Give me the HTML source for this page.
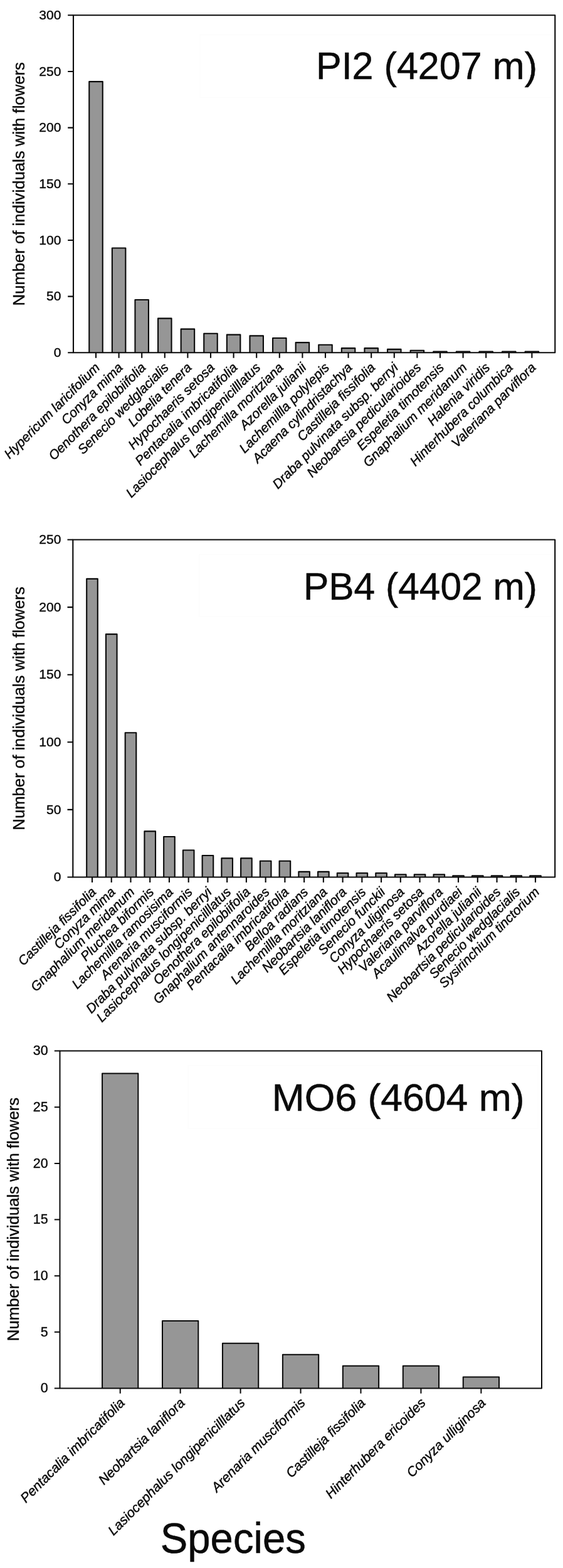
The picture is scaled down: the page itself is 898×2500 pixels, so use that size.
<!DOCTYPE html>
<html lang="en"><head><meta charset="utf-8"><title>Number of individuals with flowers per species</title>
<style>html,body{margin:0;padding:0;background:#fff}svg{display:block}text{font-family:"Liberation Sans",Arial,sans-serif;fill:#0a0a0a}</style>
</head><body>
<svg width="898" height="2500" viewBox="0 0 898 2500">
<rect width="898" height="2500" fill="#fff"/>
<g fill="#969696" stroke="#0a0a0a" stroke-width="2.1" stroke-linejoin="round">
<path d="M142.25 562.3V130.11H163.75V562.3"/>
<path d="M178.85 562.3V395.52H200.35V562.3"/>
<path d="M215.45 562.3V478.01H236.95V562.3"/>
<path d="M252.05 562.3V507.60H273.55V562.3"/>
<path d="M288.65 562.3V524.64H310.15V562.3"/>
<path d="M325.25 562.3V531.81H346.75V562.3"/>
<path d="M361.85 562.3V533.61H383.35V562.3"/>
<path d="M398.45 562.3V535.40H419.95V562.3"/>
<path d="M435.05 562.3V538.99H456.55V562.3"/>
<path d="M471.65 562.3V546.16H493.15V562.3"/>
<path d="M508.25 562.3V549.75H529.75V562.3"/>
<path d="M544.85 562.3V555.13H566.35V562.3"/>
<path d="M581.45 562.3V555.13H602.95V562.3"/>
<path d="M618.05 562.3V556.92H639.55V562.3"/>
<path d="M654.65 562.3V558.71H676.15V562.3"/>
<path d="M691.25 562.3V560.51H712.75V562.3"/>
<path d="M727.85 562.3V560.51H749.35V562.3"/>
<path d="M764.45 562.3V560.51H785.95V562.3"/>
<path d="M801.05 562.3V560.51H822.55V562.3"/>
<path d="M837.65 562.3V560.51H859.15V562.3"/>
</g>
<g fill="none" stroke="#0a0a0a" stroke-width="2.1" stroke-linejoin="round">
<rect x="117" y="24.3" width="768.3" height="538.0"/>
<path d="M108.20 562.30H117M108.20 472.63H117M108.20 382.97H117M108.20 293.30H117M108.20 203.63H117M108.20 113.97H117M108.20 24.30H117M153.00 562.3V570.70M189.60 562.3V570.70M226.20 562.3V570.70M262.80 562.3V570.70M299.40 562.3V570.70M336.00 562.3V570.70M372.60 562.3V570.70M409.20 562.3V570.70M445.80 562.3V570.70M482.40 562.3V570.70M519.00 562.3V570.70M555.60 562.3V570.70M592.20 562.3V570.70M628.80 562.3V570.70M665.40 562.3V570.70M702.00 562.3V570.70M738.60 562.3V570.70M775.20 562.3V570.70M811.80 562.3V570.70M848.40 562.3V570.70"/>
</g>
<g font-size="21" text-anchor="end" stroke="#0a0a0a" stroke-width="0.4">
<text x="97.4" y="568.96">0</text>
<text x="97.4" y="479.29">50</text>
<text x="97.4" y="389.62">100</text>
<text x="97.4" y="299.95">150</text>
<text x="97.4" y="210.29">200</text>
<text x="97.4" y="120.62">250</text>
<text x="97.4" y="30.95">300</text>
</g>
<text font-size="25.7" text-anchor="middle" stroke="#0a0a0a" stroke-width="0.4" transform="translate(38.5,293.3) rotate(-90)">Number of individuals with flowers</text>
<g font-size="21" font-style="italic" text-anchor="end" stroke="#0a0a0a" stroke-width="0.45">
<text transform="translate(160.50,587.30) rotate(-45)">Hypericum laricifolium</text>
<text transform="translate(197.10,587.30) rotate(-45)">Conyza mima</text>
<text transform="translate(233.70,587.30) rotate(-45)">Oenothera epilobiifolia</text>
<text transform="translate(270.30,587.30) rotate(-45)">Senecio wedglacialis</text>
<text transform="translate(306.90,587.30) rotate(-45)">Lobelia tenera</text>
<text transform="translate(343.50,587.30) rotate(-45)">Hypochaeris setosa</text>
<text transform="translate(380.10,587.30) rotate(-45)">Pentacalia imbricatifolia</text>
<text transform="translate(416.70,587.30) rotate(-45)">Lasiocephalus longipenicilllatus</text>
<text transform="translate(453.30,587.30) rotate(-45)">Lachemilla moritziana</text>
<text transform="translate(489.90,587.30) rotate(-45)">Azorella julianii</text>
<text transform="translate(526.50,587.30) rotate(-45)">Lachemillla polylepis</text>
<text transform="translate(563.10,587.30) rotate(-45)">Acaena cylindristachya</text>
<text transform="translate(599.70,587.30) rotate(-45)">Castilleja fissifolia</text>
<text transform="translate(636.30,587.30) rotate(-45)">Draba pulvinata subsp. berryi</text>
<text transform="translate(672.90,587.30) rotate(-45)">Neobartsia pedicularioides</text>
<text transform="translate(709.50,587.30) rotate(-45)">Espeletia timotensis</text>
<text transform="translate(746.10,587.30) rotate(-45)">Gnaphalium meridanum</text>
<text transform="translate(782.70,587.30) rotate(-45)">Halenia viridis</text>
<text transform="translate(819.30,587.30) rotate(-45)">Hinterhubera columbica</text>
<text transform="translate(855.90,587.30) rotate(-45)">Valeriana parviflora</text>
</g>
<text x="503.9" y="126.4" font-size="61" stroke="#0a0a0a" stroke-width="0.5" textLength="353.1" lengthAdjust="spacingAndGlyphs">PI2 (4207 m)</text>
<g fill="#969696" stroke="#0a0a0a" stroke-width="2.1" stroke-linejoin="round">
<path d="M138.20 1398.5V922.91H155.80V1398.5"/>
<path d="M168.94 1398.5V1011.14H186.54V1398.5"/>
<path d="M199.68 1398.5V1168.24H217.28V1398.5"/>
<path d="M230.42 1398.5V1325.33H248.02V1398.5"/>
<path d="M261.16 1398.5V1333.94H278.76V1398.5"/>
<path d="M291.90 1398.5V1355.46H309.50V1398.5"/>
<path d="M322.64 1398.5V1364.07H340.24V1398.5"/>
<path d="M353.38 1398.5V1368.37H370.98V1398.5"/>
<path d="M384.12 1398.5V1368.37H401.72V1398.5"/>
<path d="M414.86 1398.5V1372.68H432.46V1398.5"/>
<path d="M445.60 1398.5V1372.68H463.20V1398.5"/>
<path d="M476.34 1398.5V1389.89H493.94V1398.5"/>
<path d="M507.08 1398.5V1389.89H524.68V1398.5"/>
<path d="M537.82 1398.5V1392.04H555.42V1398.5"/>
<path d="M568.56 1398.5V1392.04H586.16V1398.5"/>
<path d="M599.30 1398.5V1392.04H616.90V1398.5"/>
<path d="M630.04 1398.5V1394.20H647.64V1398.5"/>
<path d="M660.78 1398.5V1394.20H678.38V1398.5"/>
<path d="M691.52 1398.5V1394.20H709.12V1398.5"/>
<path d="M722.26 1398.5V1396.35H739.86V1398.5"/>
<path d="M753.00 1398.5V1396.35H770.60V1398.5"/>
<path d="M783.74 1398.5V1396.35H801.34V1398.5"/>
<path d="M814.48 1398.5V1396.35H832.08V1398.5"/>
<path d="M845.22 1398.5V1396.35H862.82V1398.5"/>
</g>
<g fill="none" stroke="#0a0a0a" stroke-width="2.1" stroke-linejoin="round">
<rect x="116.3" y="860.5" width="768.9000000000001" height="538.0"/>
<path d="M107.50 1398.50H116.3M107.50 1290.90H116.3M107.50 1183.30H116.3M107.50 1075.70H116.3M107.50 968.10H116.3M107.50 860.50H116.3M147.00 1398.5V1406.90M177.74 1398.5V1406.90M208.48 1398.5V1406.90M239.22 1398.5V1406.90M269.96 1398.5V1406.90M300.70 1398.5V1406.90M331.44 1398.5V1406.90M362.18 1398.5V1406.90M392.92 1398.5V1406.90M423.66 1398.5V1406.90M454.40 1398.5V1406.90M485.14 1398.5V1406.90M515.88 1398.5V1406.90M546.62 1398.5V1406.90M577.36 1398.5V1406.90M608.10 1398.5V1406.90M638.84 1398.5V1406.90M669.58 1398.5V1406.90M700.32 1398.5V1406.90M731.06 1398.5V1406.90M761.80 1398.5V1406.90M792.54 1398.5V1406.90M823.28 1398.5V1406.90M854.02 1398.5V1406.90"/>
</g>
<g font-size="21" text-anchor="end" stroke="#0a0a0a" stroke-width="0.4">
<text x="97.4" y="1405.15">0</text>
<text x="97.4" y="1297.56">50</text>
<text x="97.4" y="1189.95">100</text>
<text x="97.4" y="1082.36">150</text>
<text x="97.4" y="974.75">200</text>
<text x="97.4" y="867.16">250</text>
</g>
<text font-size="25.7" text-anchor="middle" stroke="#0a0a0a" stroke-width="0.4" transform="translate(38.5,1129.5) rotate(-90)">Number of individuals with flowers</text>
<g font-size="21" font-style="italic" text-anchor="end" stroke="#0a0a0a" stroke-width="0.45">
<text transform="translate(154.50,1423.50) rotate(-45)">Castilleja fissifolia</text>
<text transform="translate(185.24,1423.50) rotate(-45)">Conyza mima</text>
<text transform="translate(215.98,1423.50) rotate(-45)">Gnaphalium meridanum</text>
<text transform="translate(246.72,1423.50) rotate(-45)">Pluchea biformis</text>
<text transform="translate(277.46,1423.50) rotate(-45)">Lachemillla ramosisima</text>
<text transform="translate(308.20,1423.50) rotate(-45)">Arenaria musciformis</text>
<text transform="translate(338.94,1423.50) rotate(-45)">Draba pulvinata subsp. berryi</text>
<text transform="translate(369.68,1423.50) rotate(-45)">Lasiocephalus longipenicilllatus</text>
<text transform="translate(400.42,1423.50) rotate(-45)">Oenothera epilobiifolia</text>
<text transform="translate(431.16,1423.50) rotate(-45)">Gnaphalium antennaroides</text>
<text transform="translate(461.90,1423.50) rotate(-45)">Pentacalia imbricatifolia</text>
<text transform="translate(492.64,1423.50) rotate(-45)">Belloa radians</text>
<text transform="translate(523.38,1423.50) rotate(-45)">Lachemillla moritziana</text>
<text transform="translate(554.12,1423.50) rotate(-45)">Neobartsia laniflora</text>
<text transform="translate(584.86,1423.50) rotate(-45)">Espeletia timotensis</text>
<text transform="translate(615.60,1423.50) rotate(-45)">Senecio funckii</text>
<text transform="translate(646.34,1423.50) rotate(-45)">Conyza uliginosa</text>
<text transform="translate(677.08,1423.50) rotate(-45)">Hypochaeris setosa</text>
<text transform="translate(707.82,1423.50) rotate(-45)">Valeriana parviflora</text>
<text transform="translate(738.56,1423.50) rotate(-45)">Acaulimalva purdiaei</text>
<text transform="translate(769.30,1423.50) rotate(-45)">Azorella julianii</text>
<text transform="translate(800.04,1423.50) rotate(-45)">Neobartsia pedicularioides</text>
<text transform="translate(830.78,1423.50) rotate(-45)">Senecio wedglacialis</text>
<text transform="translate(861.52,1423.50) rotate(-45)">Sysirinchium tinctorium</text>
</g>
<text x="483.9" y="956.4" font-size="61" stroke="#0a0a0a" stroke-width="0.5" textLength="373.1" lengthAdjust="spacingAndGlyphs">PB4 (4402 m)</text>
<g fill="#969696" stroke="#0a0a0a" stroke-width="2" stroke-linejoin="round">
<path d="M163.05 2213.5V1711.46H220.35V2213.5"/>
<path d="M259.00 2213.5V2105.92H316.30V2213.5"/>
<path d="M354.95 2213.5V2141.78H412.25V2213.5"/>
<path d="M450.90 2213.5V2159.71H508.20V2213.5"/>
<path d="M546.85 2213.5V2177.64H604.15V2213.5"/>
<path d="M642.80 2213.5V2177.64H700.10V2213.5"/>
<path d="M738.75 2213.5V2195.57H796.05V2213.5"/>
</g>
<g fill="none" stroke="#0a0a0a" stroke-width="2" stroke-linejoin="round">
<rect x="95.5" y="1675.6" width="768.5" height="537.9000000000001"/>
<path d="M86.80 2213.50H95.5M86.80 2123.85H95.5M86.80 2034.20H95.5M86.80 1944.55H95.5M86.80 1854.90H95.5M86.80 1765.25H95.5M86.80 1675.60H95.5M191.70 2213.5V2221.80M287.65 2213.5V2221.80M383.60 2213.5V2221.80M479.55 2213.5V2221.80M575.50 2213.5V2221.80M671.45 2213.5V2221.80M767.40 2213.5V2221.80"/>
</g>
<g font-size="21.4" text-anchor="end" stroke="#0a0a0a" stroke-width="0.4">
<text x="76.6" y="2220.30">0</text>
<text x="76.6" y="2130.65">5</text>
<text x="76.6" y="2041.00">10</text>
<text x="76.6" y="1951.35">15</text>
<text x="76.6" y="1861.70">20</text>
<text x="76.6" y="1772.05">25</text>
<text x="76.6" y="1682.40">30</text>
</g>
<text font-size="25.7" text-anchor="middle" stroke="#0a0a0a" stroke-width="0.4" transform="translate(29.8,1944.0) rotate(-90)">Number of individuals with flowers</text>
<g font-size="21.4" font-style="italic" text-anchor="end" stroke="#0a0a0a" stroke-width="0.45">
<text transform="translate(200.20,2238.00) rotate(-45)">Pentacalia imbricatifolia</text>
<text transform="translate(296.15,2238.00) rotate(-45)">Neobartsia laniflora</text>
<text transform="translate(392.10,2238.00) rotate(-45)">Lasiocephalus longipenicilllatus</text>
<text transform="translate(488.05,2238.00) rotate(-45)">Arenaria musciformis</text>
<text transform="translate(584.00,2238.00) rotate(-45)">Castilleja fissifolia</text>
<text transform="translate(679.95,2238.00) rotate(-45)">Hinterhubera ericoides</text>
<text transform="translate(775.90,2238.00) rotate(-45)">Conyza ulliginosa</text>
</g>
<text x="433.8" y="1770.6" font-size="61" stroke="#0a0a0a" stroke-width="0.5" textLength="402.7" lengthAdjust="spacingAndGlyphs">MO6 (4604 m)</text>
<g fill="none" stroke="#fcfcfc" stroke-width="1"><rect x="319" y="55.5" width="561" height="99.5"/><rect x="318" y="884" width="562" height="99"/><rect x="300" y="1699" width="558" height="100"/></g>
<text x="255.8" y="2475.9" font-size="68" stroke="#0a0a0a" stroke-width="0.5" textLength="232.1" lengthAdjust="spacingAndGlyphs">Species</text>
</svg></body></html>
